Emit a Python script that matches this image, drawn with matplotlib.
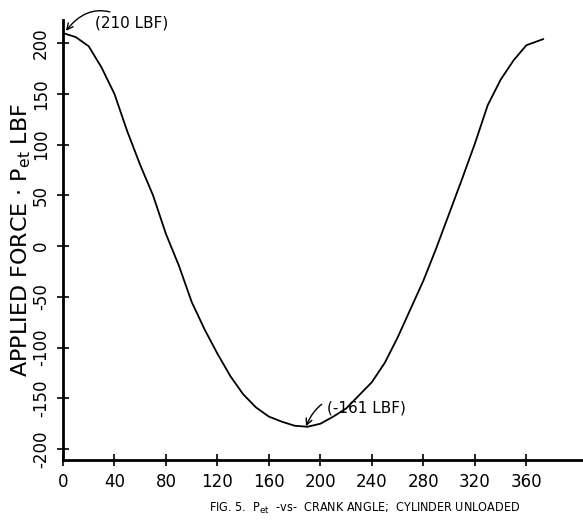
import matplotlib.pyplot as plt
import numpy as np

plt.rcParams['axes.unicode_minus'] = False

# crank angle (deg) and applied force (LBF)
crank_angle = [0, 10, 20, 30, 40, 50, 60, 70, 80, 90, 100, 110, 120, 130, 140,
               150, 160, 170, 180, 190, 200, 210, 220, 230, 240, 250, 260, 270,
               280, 290, 300, 310, 320, 330, 340, 350, 360, 373]
applied_force = [210, 206, 197, 176, 150, 113, 80, 50, 12, -19, -55, -82, -106,
                 -128, -146, -159, -168, -173, -177, -178, -175, -168, -160, -147,
                 -134, -115, -90, -62, -34, -2, 32, 66, 101, 139, 164, 183, 198, 204]

x_ticks = [0, 40, 80, 120, 160, 200, 240, 280, 320, 360]
y_ticks = [-200, -150, -100, -50, 0, 50, 100, 150, 200]

fig = plt.figure(figsize=(5.83, 5.23), dpi=100)
ax = fig.add_axes([0.108, 0.12, 0.892, 0.842])

ax.plot(crank_angle, applied_force, color='black', linewidth=1.3)

ax.set_xlim(0, 404)
ax.set_ylim(-211, 223)
ax.set_xticks(x_ticks)
ax.set_yticks(y_ticks)
ax.tick_params(direction='inout', length=9, width=1.2, labelsize=12, pad=5)
for lab in ax.get_yticklabels():
    lab.set_rotation(90)
    lab.set_va('center')

for s in ['top', 'right']:
    ax.spines[s].set_visible(False)
for s in ['left', 'bottom']:
    ax.spines[s].set_linewidth(2)

ax.set_ylabel(r'APPLIED FORCE $\cdot$ P$_{\mathrm{et}}$ LBF', fontsize=16)
ax.yaxis.set_label_coords(-0.058, 0.5)

ax.annotate('(210 LBF)', xy=(1, 210), xytext=(25, 220), fontsize=11,
            va='center', ha='left',
            arrowprops=dict(arrowstyle='->', color='black', lw=1,
                            connectionstyle='arc3,rad=0.5'))
ax.annotate('(-161 LBF)', xy=(188, -180), xytext=(205, -160), fontsize=11,
            va='center', ha='left',
            arrowprops=dict(arrowstyle='->', color='black', lw=1,
                            connectionstyle='arc3,rad=0.6'))

fig.text(0.625, 0.028, r'FIG. 5.  P$_{\mathrm{et}}$  -vs-  CRANK ANGLE;  CYLINDER UNLOADED',
         ha='center', va='center', fontsize=9, fontstretch='condensed')

fig.savefig('out.png', dpi=100)
